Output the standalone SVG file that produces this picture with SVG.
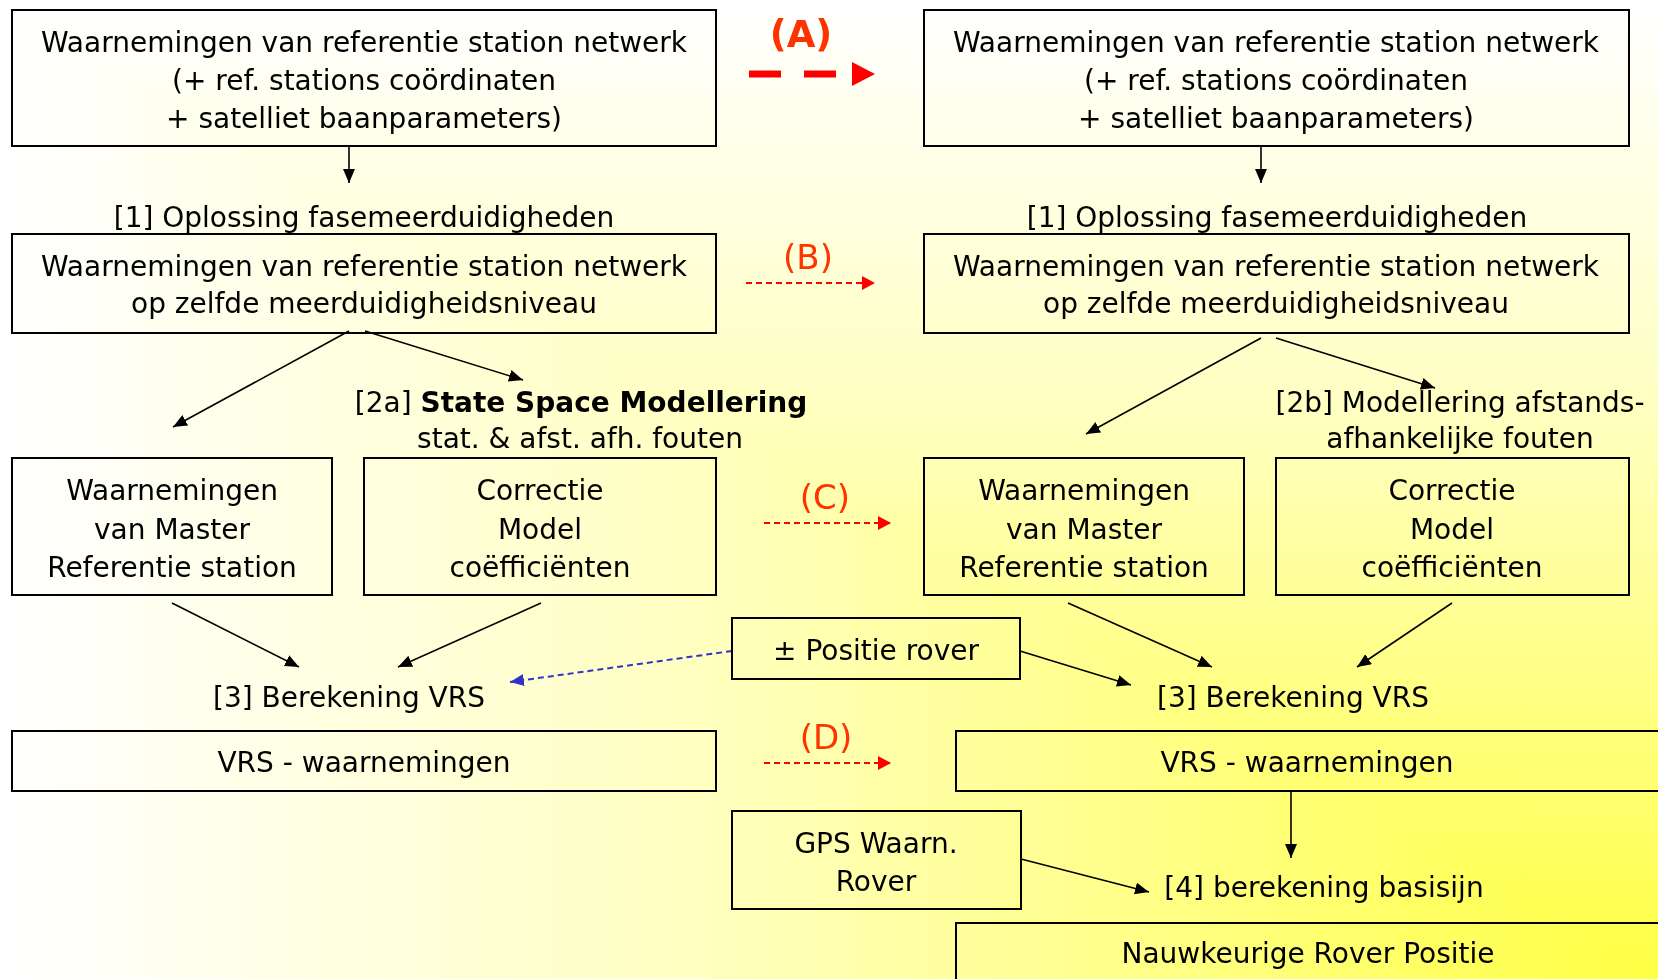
<svg xmlns="http://www.w3.org/2000/svg" width="1658" height="979" viewBox="0 0 1658 979">
<defs>
<linearGradient id="gx" gradientUnits="userSpaceOnUse" x1="0" y1="0" x2="1658" y2="0">
<stop offset="0" stop-color="#FFFFFF"/>
<stop offset="0.4" stop-color="#FFFFC4"/>
<stop offset="0.84" stop-color="#FFFF68"/>
<stop offset="1" stop-color="#FFFF44"/>
</linearGradient>
<linearGradient id="gy" gradientUnits="userSpaceOnUse" x1="0" y1="0" x2="0" y2="979">
<stop offset="0" stop-color="#FFFFFF"/>
<stop offset="0.4" stop-color="#FFFFC4"/>
<stop offset="0.84" stop-color="#FFFF68"/>
<stop offset="1" stop-color="#FFFF44"/>
</linearGradient>
<marker id="ah" markerUnits="userSpaceOnUse" markerWidth="14" markerHeight="12" refX="14" refY="6" orient="auto">
<path d="M0,0 L14,6 L0,12 z" fill="#000"/>
</marker>
<marker id="ahr" markerUnits="userSpaceOnUse" markerWidth="13" markerHeight="14" refX="13" refY="7" orient="auto">
<path d="M0,0 L13,7 L0,14 z" fill="#FF0000"/>
</marker>
<marker id="ahb" markerUnits="userSpaceOnUse" markerWidth="14" markerHeight="12" refX="14" refY="6" orient="auto">
<path d="M0,0 L14,6 L0,12 z" fill="#3333CC"/>
</marker>
<style>
text{font-family:"DejaVu Sans","Liberation Sans",sans-serif;font-size:28px;fill:#000;text-anchor:middle}
.b{font-weight:bold}
.lab{fill:#FF3300;font-size:34px}
.box{fill:none;stroke:#000;stroke-width:2}
.c{stroke:#000;stroke-width:1.6;fill:none;marker-end:url(#ah)}
.r{stroke:#FF0000;stroke-width:2;stroke-dasharray:6 4;fill:none;marker-end:url(#ahr)}
</style>
</defs>
<rect width="1658" height="979" fill="url(#gx)"/>
<rect width="1658" height="979" fill="url(#gy)" style="mix-blend-mode:lighten"/>

<g id="connectors">
<line class="c" x1="349" y1="146" x2="349" y2="183"/>
<line class="c" x1="1261" y1="146" x2="1261" y2="183"/>
<line class="c" x1="349" y1="331" x2="173" y2="427"/>
<line class="c" x1="365" y1="331" x2="523" y2="380"/>
<line class="c" x1="1261" y1="338" x2="1086" y2="434"/>
<line class="c" x1="1276" y1="338" x2="1435" y2="388"/>
<line class="c" x1="172" y1="603" x2="299" y2="667"/>
<line class="c" x1="541" y1="603" x2="398" y2="667"/>
<line class="c" x1="1068" y1="603" x2="1212" y2="667"/>
<line class="c" x1="1452" y1="603" x2="1357" y2="667"/>
<line class="c" x1="1020" y1="651" x2="1131" y2="685"/>
<line class="c" x1="1291" y1="791" x2="1291" y2="858"/>
<line class="c" x1="1021" y1="859" x2="1149" y2="892"/>
<line x1="732" y1="651" x2="510" y2="682" stroke="#3333CC" stroke-width="2" stroke-dasharray="6 4" marker-end="url(#ahb)"/>
<line x1="749" y1="74" x2="836" y2="74" stroke="#FF0000" stroke-width="7" stroke-dasharray="32 23"/>
<polygon points="852,62 875,74 852,86" fill="#FF0000"/>
<line class="r" x1="746" y1="283" x2="875" y2="283"/>
<line class="r" x1="764" y1="523" x2="891" y2="523"/>
<line class="r" x1="764" y1="763" x2="891" y2="763"/>
</g>

<g id="labels">
<text class="b lab" x="801" y="47" style="font-size:37px">(A)</text>
<text class="lab" x="808" y="269">(B)</text>
<text class="lab" x="825" y="509">(C)</text>
<text class="lab" x="826" y="749">(D)</text>
</g>

<g id="n1">
<rect class="box" x="12" y="10" width="704" height="136"/>
<text x="364" y="52">Waarnemingen van referentie station netwerk</text>
<text x="364" y="90">(+ ref. stations coördinaten</text>
<text x="364" y="128">+ satelliet baanparameters)</text>
</g>
<g id="n1r">
<rect class="box" x="924" y="10" width="705" height="136"/>
<text x="1276" y="52">Waarnemingen van referentie station netwerk</text>
<text x="1276" y="90">(+ ref. stations coördinaten</text>
<text x="1276" y="128">+ satelliet baanparameters)</text>
</g>
<g id="s1"><text x="364" y="227">[1] Oplossing fasemeerduidigheden</text></g>
<g id="s1r"><text x="1277" y="227">[1] Oplossing fasemeerduidigheden</text></g>
<g id="n2">
<rect class="box" x="12" y="234" width="704" height="99"/>
<text x="364" y="276">Waarnemingen van referentie station netwerk</text>
<text x="364" y="313">op zelfde meerduidigheidsniveau</text>
</g>
<g id="n2r">
<rect class="box" x="924" y="234" width="705" height="99"/>
<text x="1276" y="276">Waarnemingen van referentie station netwerk</text>
<text x="1276" y="313">op zelfde meerduidigheidsniveau</text>
</g>
<g id="s2a">
<text x="581" y="412">[2a] <tspan class="b">State Space Modellering</tspan></text>
<text x="580" y="448">stat. &amp; afst. afh. fouten</text>
</g>
<g id="s2b">
<text x="1460" y="412">[2b] Modellering afstands-</text>
<text x="1460" y="448">afhankelijke fouten</text>
</g>
<g id="n3a">
<rect class="box" x="12" y="458" width="320" height="137"/>
<text x="172" y="500">Waarnemingen</text>
<text x="172" y="539">van Master</text>
<text x="172" y="577">Referentie station</text>
</g>
<g id="n3b">
<rect class="box" x="364" y="458" width="352" height="137"/>
<text x="540" y="500">Correctie</text>
<text x="540" y="539">Model</text>
<text x="540" y="577">coëfficiënten</text>
</g>
<g id="n3c">
<rect class="box" x="924" y="458" width="320" height="137"/>
<text x="1084" y="500">Waarnemingen</text>
<text x="1084" y="539">van Master</text>
<text x="1084" y="577">Referentie station</text>
</g>
<g id="n3d">
<rect class="box" x="1276" y="458" width="353" height="137"/>
<text x="1452" y="500">Correctie</text>
<text x="1452" y="539">Model</text>
<text x="1452" y="577">coëfficiënten</text>
</g>
<g id="npos">
<rect class="box" x="732" y="618" width="288" height="61"/>
<text x="876" y="660">± Positie rover</text>
</g>
<g id="s3"><text x="349" y="707">[3] Berekening VRS</text></g>
<g id="s3r"><text x="1293" y="707">[3] Berekening VRS</text></g>
<g id="nvrs">
<rect class="box" x="12" y="731" width="704" height="60"/>
<text x="364" y="772">VRS - waarnemingen</text>
</g>
<g id="nvrsr">
<rect class="box" x="956" y="731" width="720" height="60"/>
<text x="1307" y="772">VRS - waarnemingen</text>
</g>
<g id="ngps">
<rect class="box" x="732" y="811" width="289" height="98"/>
<text x="876" y="853">GPS Waarn.</text>
<text x="876" y="891">Rover</text>
</g>
<g id="s4"><text x="1324" y="897">[4] berekening basisijn</text></g>
<g id="nrov">
<rect class="box" x="956" y="923" width="720" height="80"/>
<text x="1308" y="963">Nauwkeurige Rover Positie</text>
</g>
</svg>
